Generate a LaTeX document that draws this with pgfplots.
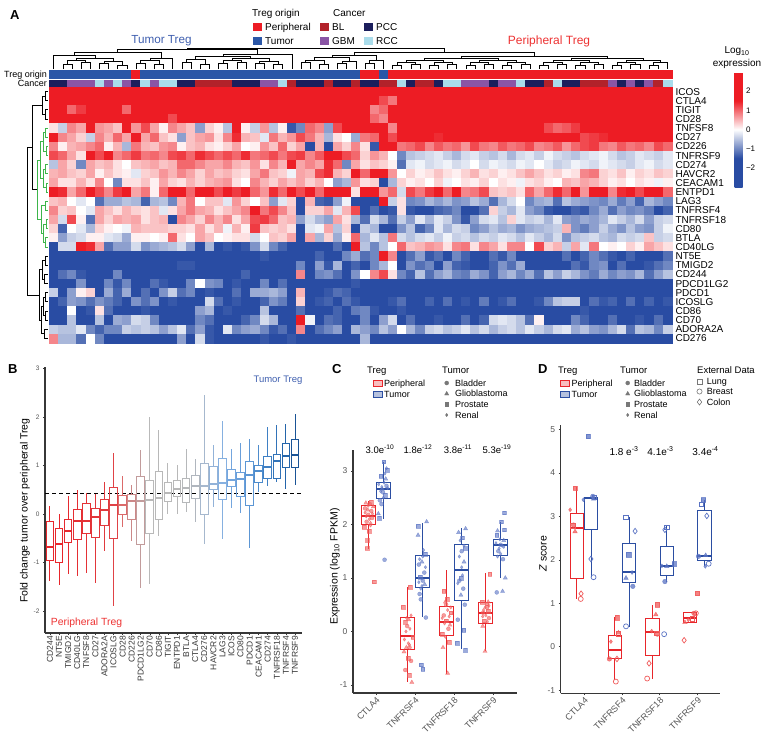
\documentclass[border=0pt]{standalone}
\usepackage{fontspec}
\setmainfont{Liberation Sans}
\usepackage{pgfplots}
\pgfplotsset{compat=1.18}
\usepackage{pgfplotstable}
\usepgfplotslibrary{statistics}
\newcommand{\fs}[1]{\fontsize{#1}{#1}\selectfont}
\definecolor{cP}{RGB}{237,28,36}
\definecolor{cT}{RGB}{43,87,167}
\definecolor{cBL}{RGB}{178,34,42}
\definecolor{cGBM}{RGB}{138,85,165}
\definecolor{cPCC}{RGB}{27,30,92}
\definecolor{cRCC}{RGB}{169,220,235}
\definecolor{cR}{RGB}{232,38,43}
\definecolor{cB}{RGB}{43,78,162}
\definecolor{ptR}{RGB}{240,90,90}
\definecolor{ptB}{RGB}{90,115,195}
\definecolor{axgray}{RGB}{55,55,55}
\definecolor{labgray}{RGB}{85,85,85}
\definecolor{symgray}{RGB}{120,120,120}
\definecolor{dgreen}{RGB}{61,181,74}
\definecolor{ttblue}{RGB}{63,95,175}
\definecolor{ptred}{RGB}{237,50,50}
% fold-change box colours, red -> grey -> blue
\definecolor{b01}{RGB}{232,38,43}
\definecolor{b02}{RGB}{232,38,43}
\definecolor{b03}{RGB}{230,42,47}
\definecolor{b04}{RGB}{229,46,51}
\definecolor{b05}{RGB}{228,50,54}
\definecolor{b06}{RGB}{226,54,58}
\definecolor{b07}{RGB}{224,58,62}
\definecolor{b08}{RGB}{224,66,70}
\definecolor{b09}{RGB}{219,106,106}
\definecolor{b10}{RGB}{204,136,136}
\definecolor{b11}{RGB}{194,156,156}
\definecolor{b12}{RGB}{185,185,185}
\definecolor{b13}{RGB}{184,184,184}
\definecolor{b14}{RGB}{185,185,185}
\definecolor{b15}{RGB}{184,184,184}
\definecolor{b16}{RGB}{182,184,186}
\definecolor{b17}{RGB}{176,182,190}
\definecolor{b18}{RGB}{166,184,206}
\definecolor{b19}{RGB}{146,178,216}
\definecolor{b20}{RGB}{134,176,224}
\definecolor{b21}{RGB}{116,166,222}
\definecolor{b22}{RGB}{106,159,218}
\definecolor{b23}{RGB}{92,150,212}
\definecolor{b24}{RGB}{78,140,204}
\definecolor{b25}{RGB}{63,128,196}
\definecolor{b26}{RGB}{50,115,184}
\definecolor{b27}{RGB}{36,101,170}
\definecolor{b28}{RGB}{26,84,150}
\newcommand{\bx}[7]{\addplot[draw=#1,line width=1pt,boxplot prepared={draw position=#2,lower whisker=#3,lower quartile=#4,median=#5,upper quartile=#6,upper whisker=#7}] coordinates {};}

% log10 expression, one line per gene (top to bottom), one column per sample
\pgfplotstableread[header=false]{
2.5 2.5 2.5 2.5 2.5 2.5 2.5 2.5 2.5 2.5  2.5 2.5 2.5 2.5 2.5 2.5 2.5 2.5 2.5 2.5  2.5 2.5 2.5 2.5 2.5 2.5 2.5 1.8 2.5 2.5  2.5 2.5 2.5 2.5 2.5 2.5 1.6 2.5 2.5 2.5  2.5 2.5 2.5 2.5 2.5 2.5 2.5 2.5 2.5 2.5  2.5 2.5 2.5 2.5 2.5 2.5 2.5 2.5 2.5 2.5  2.5 2.5 2.5 2.5 2.5 2.5 2.5 2.5
2.5 2.5 2.5 2.5 2.5 2.5 2.5 2.5 2.5 2.5  2.5 2.5 2.5 2.5 2.5 2.5 2.5 2.5 2.5 2.5  2.5 2.5 2.5 2.5 2.5 2.5 2.5 2.5 2.5 2.5  2.5 2.5 2.5 2.5 2.5 1.5 1.2 0.9 2.5 2.5  2.5 2.5 2.5 2.5 2.5 2.5 2.5 2.5 2.5 2.5  2.5 2.5 2.5 2.5 2.5 2.5 2.5 2.5 2.5 2.5  2.5 2.5 2.5 2.5 2.5 2.5 2.5 2.5
2.0 2.5 1.0 1.3 2.0 1.8 2.3 2.5 1.0 2.5  2.2 1.7 2.5 2.2 2.5 2.0 1.8 2.3 2.0 1.7  2.2 2.5 2.2 1.8 2.5 2.3 2.0 1.5 1.8 2.4  2.0 2.5 2.3 2.0 2.2 0.8 1.0 1.5 2.4 2.4  2.4 2.4 1.8 2.4 2.0 2.4 1.8 2.4 2.4 2.4  1.6 2.4 2.4 2.0 2.4 2.0 2.4 2.4 2.4 2.4  2.4 1.5 2.4 2.4 2.4 2.4 2.4 1.6
1.8 1.9 2.2 1.6 1.9 2.0 2.4 1.7 2.3 2.4  2.0 2.2 1.8 1.2 1.5 2.2 2.4 1.7 2.0 1.8  1.6 2.0 1.9 2.2 2.4 1.8 1.5 1.8 2.4 2.4  2.0 2.2 2.4 2.0 2.4 1.0 0.8 2.4 2.4 2.4  2.0 2.0 2.4 2.4 2.4 2.4 2.0 2.4 2.4 2.4  2.4 2.0 2.4 2.4 2.4 2.4 2.4 1.8 2.4 2.4  2.4 2.4 2.4 2.4 2.4 2.4 2.4 2.4
0.2 -0.4 0.8 0.6 2.2 0.7 0.6 0.4 1.8 0.7  1.2 0.6 0.1 0.8 0.6 0.4 -0.8 0.3 0.1 -0.5  1.5 0.1 -0.4 0.7 -0.5 0.1 -1.4 -1.0 1.0 0.8  -0.8 1.2 2.0 2.2 1.8 1.6 1.8 0.8 2.2 2.2  2.2 2.2 1.6 2.2 2.2 2.2 2.2 2.2 1.8 2.2  2.2 2.2 1.5 2.2 1.2 1.0 1.1 1.3 2.2 2.2  2.2 2.2 2.2 2.2 1.8 2.2 1.6 2.2
1.5 0.8 0.6 0.3 -0.4 0.8 0.5 1.0 0.6 1.5  0.6 1.0 0.4 0.2 -0.8 0.4 0.6 0.7 0.2 0.8  1.4 0.5 0.4 -0.2 0.9 0.5 0.7 1.2 0.9 0.5  -0.6 0.2 0.0 -0.7 0.9 1.0 2.0 1.2 2.0 1.5  1.8 2.0 1.4 1.8 2.2 1.9 1.6 2.2 1.8 2.0  2.2 1.7 2.0 1.9 2.2 1.8 2.0 1.6 1.2 1.3  1.4 2.0 2.2 1.8 2.0 1.9 1.6 2.0
0.8 0.1 0.5 0.6 0.8 1.0 0.1 0.5 -0.6 0.9  0.5 0.4 0.7 0.8 0.1 0.4 0.5 0.2 0.1 0.3  0.6 0.0 0.1 0.7 0.4 1.0 0.3 0.6 -2.2 0.5  -1.8 0.6 0.3 0.8 0.2 -1.4 2.2 2.3 0.9 1.0  1.2 0.8 1.1 0.9 1.0 0.7 1.2 0.9 0.8 1.1  0.9 1.0 1.2 0.8 0.9 1.1 0.7 1.0 1.2 1.3  0.9 0.8 1.1 0.9 1.0 0.8 1.2 1.0
1.2 1.0 0.6 0.2 1.5 1.2 1.6 0.8 1.0 1.3  0.9 1.0 0.8 1.2 1.3 1.0 1.4 1.2 1.0 1.2  1.0 1.4 0.9 1.0 1.2 0.9 1.2 1.3 0.8 1.1  1.6 1.9 1.2 1.0 0.3 0.7 0.5 0.0 -1.0 -0.5  -0.4 -0.3 -0.2 -0.4 -0.6 -0.3 -0.2 -0.4 -0.5 -0.3  -0.6 -0.3 -0.2 -0.4 -0.1 -0.3 -0.4 -0.5 -0.3 -0.2  -0.1 -0.3 -0.5 -0.4 -0.2 -0.3 -0.4 -0.2
-0.5 0.6 0.3 -1.0 0.6 0.4 0.5 0.2 0.0 0.4  0.5 0.6 0.4 0.5 1.0 1.0 0.8 0.6 0.6 0.8  0.5 0.4 0.7 0.2 0.8 0.5 2.2 0.6 0.8 0.6  1.4 1.0 -1.0 0.6 0.2 0.4 0.3 0.1 -1.2 -0.2  -0.1 -0.3 -0.2 -0.1 -0.3 -0.2 0.0 -0.3 -0.1 -0.2  -0.3 -0.1 -0.2 0.0 -0.2 -0.4 -0.3 -0.1 -0.2 -0.3  -0.1 -0.2 -0.3 -0.4 -0.2 -0.1 -0.3 -0.2
0.5 0.6 0.4 0.3 0.6 0.1 0.4 0.2 0.1 -0.2  0.3 0.4 0.7 0.5 0.8 0.6 0.3 0.6 0.4 0.5  0.3 0.2 0.6 0.9 0.4 0.3 -0.1 0.6 0.5 1.2  1.4 0.5 0.3 1.6 1.0 1.8 1.8 0.7 0.0 0.3  0.1 0.2 0.4 0.2 0.1 0.3 0.5 0.2 0.3 0.1  0.2 0.4 0.6 0.4 0.2 0.3 0.1 0.2 0.8 0.9  0.3 0.2 0.4 0.1 0.3 0.2 0.4 0.3
0.6 0.2 0.2 0.5 0.2 0.8 0.0 -1.0 0.2 0.2  0.4 0.1 0.6 0.3 0.2 0.5 0.3 0.5 0.6 0.7  0.2 0.0 0.8 0.5 0.3 0.6 0.4 0.6 0.3 0.5  0.0 -0.8 -0.6 0.7 0.2 0.3 -1.5 -0.6 0.3 0.1  0.2 0.0 0.3 -0.1 0.0 0.2 0.1 0.3 0.0 0.2  0.1 -0.1 0.2 0.3 0.1 0.0 0.5 0.4 0.6 0.5  0.3 0.1 0.2 0.0 0.2 0.1 -0.1 0.1
1.5 1.4 0.6 1.0 1.5 1.2 0.8 1.3 1.8 0.6  0.9 0.1 1.0 2.0 1.6 1.0 1.8 1.5 1.2 1.6  1.3 1.5 1.0 0.7 1.4 1.0 1.5 1.2 1.6 1.0  1.9 1.6 2.2 0.2 2.3 2.3 0.7 1.0 -0.3 1.2  0.9 1.3 1.5 1.0 1.6 0.8 0.9 1.2 0.4 0.3  0.4 0.2 1.0 0.6 1.0 1.4 1.0 1.6 0.7 1.5  1.6 0.8 1.4 1.6 1.2 1.5 1.8 1.0
0.4 0.5 0.0 -0.2 0.0 -1.2 -0.7 -0.7 -0.5 -0.6  -1.3 -0.6 -0.5 -1.0 0.5 0.9 0.0 0.4 0.4 -0.2  0.7 0.3 0.0 0.4 -0.8 -0.2 0.3 -1.8 0.5 -1.3  -1.4 -0.8 -0.1 -1.8 -1.8 -1.5 1.5 -0.4 0.2 -1.0  -0.9 -0.6 -0.8 -0.6 -0.9 -0.8 -0.5 -0.7 -1.2 -0.6  -0.3 0.0 -1.0 -0.7 -0.6 -1.2 -0.5 -0.7 -0.8 -0.9  -1.0 -0.7 -1.1 -0.8 -1.3 -0.6 -0.8 -1.0
0.8 0.3 0.4 0.0 -0.2 0.6 0.4 0.2 0.5 0.3  0.2 0.4 -0.2 0.2 0.6 0.9 0.6 0.5 0.2 0.4  0.6 0.8 2.4 0.9 1.2 0.8 0.4 -1.5 0.3 0.3  0.6 -0.2 0.5 1.2 -1.5 -1.2 -1.6 -1.4 0.2 -1.4  -1.8 -1.8 -1.3 -1.2 -1.0 -1.6 -1.8 -1.2 0.3 -0.4  -0.6 -0.2 -0.8 -1.0 -1.4 -1.6 -1.8 -1.3 -1.4 -1.0  -0.7 -1.2 -0.8 -1.0 -0.9 -1.1 -1.8 -1.3
0.6 -0.3 1.2 0.1 -1.2 0.6 0.3 0.6 0.5 0.6  0.2 0.4 0.5 -1.6 0.8 0.6 0.3 0.8 0.5 0.8  0.2 0.6 1.2 1.3 1.0 0.4 0.5 -0.8 -0.3 -0.6  -0.8 0.6 0.2 -0.6 -1.2 -0.3 -0.6 -1.2 -0.4 -0.8  -0.2 -0.6 -0.2 -0.4 -0.9 -1.4 -0.8 -0.3 -0.2 -0.5  0.3 -0.2 -0.4 -0.3 -0.6 -0.2 -0.8 -0.9 -0.7 -0.8  -0.6 -0.2 -0.4 -0.6 -0.3 -0.8 -0.4 -0.3
0.3 -1.3 0.0 -0.2 -0.6 0.3 0.1 0.0 -0.1 0.5  0.4 0.4 0.4 0.3 0.3 0.2 0.6 0.2 0.5 -0.1  0.5 0.1 1.3 0.4 0.3 0.4 0.2 -1.8 -0.2 -0.1  0.6 -0.5 0.3 -1.6 -0.4 -0.6 -1.8 -1.6 -0.9 -0.5  -1.3 -1.0 -0.2 -0.6 -0.3 -0.4 -1.0 -0.8 -0.5 -0.7  -0.6 -0.9 -0.7 -0.6 -0.5 -0.4 0.5 -0.9 -1.1 -0.8  -0.4 -0.7 -0.9 -0.5 -0.8 -0.9 -0.4 -0.1
0.1 -0.8 -0.4 -0.3 0.1 0.1 -0.2 -0.3 -0.7 0.1  0.1 0.0 0.1 1.0 0.2 0.0 0.6 0.4 0.0 0.1  0.2 0.2 -0.3 0.0 0.4 0.3 0.6 -1.5 0.6 -0.6  0.3 -0.7 0.1 1.0 -0.6 -0.2 -0.5 0.9 -0.3 -0.5  -0.3 -0.2 -0.4 -0.1 -0.4 -0.3 -0.5 -0.3 -0.4 -0.2  -0.3 -0.5 -0.2 -0.4 -0.6 -0.3 -0.9 -0.5 -0.4 -0.3  -0.5 -0.6 -0.3 -0.4 -0.3 0.4 -0.4 -0.3
-2.0 -0.3 -0.3 1.8 1.4 0.6 -1.2 -0.8 -0.8 -0.3  -0.9 -0.7 -0.6 -0.5 -0.3 -0.8 -2.0 -0.6 -1.5 -1.4  -1.6 -1.4 -0.9 -0.3 -1.0 -1.3 -1.6 -1.8 -1.8 -1.5  -1.6 -1.2 -1.8 2.0 -0.5 -1.0 -0.5 0.0 1.0 0.4  0.5 0.7 0.6 0.2 0.8 0.9 0.2 0.8 0.6 0.2  0.8 0.8 0.0 1.2 0.3 0.5 -0.4 0.6 -0.2 0.9  0.0 0.1 0.0 0.3 0.1 0.6 0.4 0.2
-2.2 -2.0 -2.2 -2.2 -2.1 -2.2 -2.2 -2.0 -2.2 -2.2  -2.2 -2.1 -2.2 -2.2 -2.0 -2.2 -2.2 -2.1 -2.2 -1.5  -2.2 -2.0 -1.6 -1.4 -2.2 -2.1 -2.2 -2.2 -2.0 -1.3  -1.5 -2.0 -1.0 -0.7 -1.2 -1.0 1.5 0.8 -1.5 -1.2  -0.8 -1.4 -1.2 -1.6 -1.0 -1.3 -1.5 -1.8 -1.2 -1.4  -1.0 -1.6 -1.8 -2.0 -1.9 -1.8 -1.2 -1.5 -1.3 -1.0  -1.2 -1.4 -1.6 -1.3 -1.8 -1.5 -1.7 -1.2
-2.2 -2.2 -2.2 -2.2 -2.2 -2.1 -2.2 -2.2 -2.2 -2.2  -2.2 -2.2 -2.2 -2.2 -1.4 -1.4 -2.2 -2.2 -2.2 -2.2  -2.2 -1.7 -2.2 -2.2 -2.2 -2.2 -2.2 -1.0 -2.2 -0.8  -1.4 -0.6 -2.0 -1.3 -1.8 -1.0 -0.6 0.0 -1.5 -0.9  -1.2 -1.0 -1.6 -0.8 -1.3 -1.4 -1.8 -1.6 -1.3 -0.9  -1.2 -0.7 -1.6 -1.5 -1.8 -2.0 -1.8 -1.2 -1.4 -1.0  -0.9 -1.6 -1.2 -1.8 -1.5 -1.4 -1.2 -1.0
-2.2 -1.2 -1.0 -1.4 -1.6 -2.0 -2.2 -1.0 -2.2 -2.0  -2.2 -2.0 -2.2 -2.0 -2.2 -2.1 -2.2 -2.0 -2.2 -1.8  -2.0 -1.3 -2.1 -1.8 -2.0 -1.9 -2.2 0.8 -2.0 -1.0  -0.9 -1.2 -1.5 -0.9 0.0 0.8 1.2 0.2 -1.0 -1.3  -0.5 -1.2 -0.8 -0.6 -1.0 -1.1 -0.7 -0.9 -1.3 -0.8  -0.6 -1.0 -0.7 -1.2 -0.5 -0.8 -0.4 -0.6 -0.9 -1.1  -0.7 -1.0 -0.8 -0.9 -0.6 -1.2 -0.8 -0.5
-2.2 -2.2 -2.0 -0.9 -1.5 -2.0 -1.0 -1.4 -1.0 -2.2  -2.0 -1.2 -1.4 -1.5 -1.5 -1.0 0.0 -0.9 -1.0 -1.7  -1.4 -1.5 -1.6 -1.0 -1.5 -1.2 -2.0 -1.5 -2.0 -1.6  -1.5 -2.0 -2.0 -1.4 -1.8 -2.0 -2.2 -2.2 -2.1 -2.2  -2.2 -2.0 -1.9 -2.2 -1.8 -2.2 -2.1 -2.2 -2.0 -1.7  -2.2 -2.1 -1.8 -2.2 -2.0 -2.2 -2.2 -1.9 -2.2 -2.0  -2.2 -2.1 -2.0 -2.2 -2.1 -1.6 -2.2 -2.2
-0.4 -2.2 -0.8 0.1 0.3 -2.2 -0.7 -1.3 -0.7 -1.8  -1.2 -1.5 -0.9 -0.4 -1.2 -1.0 -1.5 -1.4 -1.6 -1.8  -1.2 -1.5 -0.7 -0.7 -0.6 -0.8 -2.0 0.5 -2.0 -1.6  -1.4 -1.2 -1.3 -1.5 -1.6 -2.0 -2.2 -2.2 -1.5 -2.0  -1.8 -2.0 -2.2 -1.7 -2.0 -1.8 -2.1 -2.0 -1.5 -1.8  -1.9 -2.2 -2.0 -1.8 -2.1 -2.2 -2.0 -1.9 -2.2 -2.2  -2.2 -2.0 -1.8 -2.1 -1.9 -2.0 -2.2 -2.2
-2.0 -1.3 -0.8 -0.9 -1.2 -0.9 -1.1 -1.3 -2.0 -0.9  -1.2 -0.9 -1.5 -1.4 -1.6 -1.5 -1.8 -0.3 -1.2 -1.7  -1.4 -1.6 -1.5 -1.3 -0.9 -1.1 -2.0 0.3 -2.0 -1.4  -1.3 -1.6 -1.2 -1.4 -1.6 -1.5 -1.6 -1.4 -1.2 -1.8  -1.5 -1.3 -1.6 -1.2 -1.8 -1.4 -1.5 -1.1 -1.6 -1.4  -1.2 -1.5 -1.6 -1.4 -1.0 -0.5 -0.4 -0.4 -1.6 -1.2  -1.4 -1.3 -1.6 -1.2 -1.5 -1.3 -1.6 -1.4
-2.0 -1.6 0.0 -2.0 -1.4 0.2 -1.2 -1.8 -1.5 -1.6  -1.4 -2.0 -1.8 -1.6 -1.5 -1.7 -0.8 -0.6 -1.7 -1.4  -2.0 -1.9 -2.0 -0.5 -1.8 -1.6 -1.8 -1.2 -1.6 -1.8  -1.5 -1.3 -1.6 -1.1 -1.0 -1.4 -1.9 -2.1 -1.4 -1.8  -1.6 -2.0 -1.8 -2.1 -1.7 -1.9 -1.6 -2.0 -1.8 -1.9  -2.1 -1.7 -1.9 -1.8 -1.5 -1.9 -2.0 -1.6 -1.4 -1.9  -2.1 -2.0 -1.8 -1.9 -1.7 -1.8 -1.6 -1.7
-2.2 -2.2 -0.5 -2.2 -1.5 -0.5 -1.8 -0.7 -0.8 -0.3  -0.4 -1.0 -1.6 -2.0 -2.0 -1.6 -1.0 -1.2 -1.6 -1.5  -1.8 -1.3 -1.0 -0.3 -0.6 -1.8 -2.0 2.5 -0.1 -1.6  -1.2 -1.3 -1.5 -1.6 -1.0 -1.8 -0.8 -0.3 -1.8 -1.2  -1.6 -1.9 -1.4 -1.5 -1.7 -1.2 -1.8 -1.3 -0.3 -0.2  -0.3 -0.5 -1.2 0.1 -1.6 -1.8 -1.5 -1.0 -1.3 -1.6  -1.8 -1.2 -1.5 -1.7 -1.4 -1.6 -1.2 -1.5
-0.4 -0.5 -0.5 -0.2 -1.0 -1.3 -1.0 -1.0 -0.4 -0.5  -0.4 -0.5 -0.8 -0.5 -0.2 -1.2 -0.8 -1.4 -1.8 -0.2  -1.0 -0.8 -0.7 -1.0 -1.4 -1.2 -1.6 0.8 -1.8 -1.2  -1.0 -0.8 -1.5 -0.6 -0.8 -1.0 -0.5 -0.8 0.0 -0.6  -1.0 -0.4 -0.3 -0.5 -0.4 -0.2 -0.5 -0.3 -0.6 -0.4  -0.3 -0.5 -0.2 -0.4 -0.6 -0.3 -0.2 -0.7 -0.5 -0.8  -0.9 -0.6 -0.3 -1.2 -0.5 -0.6 -1.0 -0.4
0.8 -0.6 -0.6 -1.2 0.0 -1.0 -2.2 -2.2 -2.2 -2.2  -2.2 -2.2 -2.2 -2.2 -0.8 -2.2 -0.3 -1.4 -2.2 -1.8  -2.2 -2.2 -1.8 -1.4 -2.0 -1.8 -1.4 -2.2 -1.6 -1.8  -2.2 -1.8 -2.0 -2.2 -0.6 -2.0 -2.2 -2.2 -2.2 -2.1  -2.2 -2.2 -2.0 -2.2 -2.2 -2.1 -2.2 -2.2 -2.2 -2.0  -2.2 -2.2 -2.1 -2.2 -2.2 -2.2 -2.0 -2.2 -2.2 -2.2  -2.0 -2.2 -2.2 -2.2 -2.1 -2.2 -2.2 -2.2
}\heat

% sample annotation: Treg origin and cancer type
\pgfplotstableread{
x o c
0 T PCC
1 T PCC
2 T GBM
3 T GBM
4 T GBM
5 T RCC
6 T GBM
7 T RCC
8 T GBM
9 P PCC
10 T RCC
11 T GBM
12 T RCC
13 T RCC
14 T PCC
15 T PCC
16 T BL
17 T BL
18 T BL
19 T BL
20 T PCC
21 T PCC
22 T PCC
23 T GBM
24 T GBM
25 T RCC
26 T BL
27 T PCC
28 T PCC
29 T PCC
30 T BL
31 T PCC
32 T PCC
33 T BL
34 P PCC
35 P PCC
36 T BL
37 P BL
38 P RCC
39 P PCC
40 P BL
41 P BL
42 P PCC
43 P RCC
44 P RCC
45 P GBM
46 P GBM
47 P GBM
48 P PCC
49 P GBM
50 P GBM
51 P RCC
52 P PCC
53 P PCC
54 P BL
55 P RCC
56 P PCC
57 P PCC
58 P BL
59 P BL
60 P BL
61 P GBM
62 P PCC
63 P GBM
64 P PCC
65 P GBM
66 P BL
67 P RCC
}\annot

\begin{document}
\begin{tikzpicture}
\useasboundingbox (0,0) rectangle (767pt,-745pt);

% ---------------- A: heatmap
\begin{axis}[at={(49pt,-87pt)},anchor=north west,scale only axis,width=623pt,height=256pt,
  xmin=-0.5,xmax=67.5,ymin=-0.5,ymax=27.5,y dir=reverse,
  axis line style={draw=none},xtick=\empty,ytick={0,...,27},
  yticklabels={ICOS,CTLA4,TIGIT,CD28,TNFSF8,CD27,CD226,TNFRSF9,CD274,HAVCR2,CEACAM1,ENTPD1,LAG3,TNFRSF4,TNFRSF18,CD80,BTLA,CD40LG,NT5E,TMIGD2,CD244,PDCD1LG2,PDCD1,ICOSLG,CD86,CD70,ADORA2A,CD276},
  yticklabel pos=right,yticklabel style={font=\fs{10}},major tick length=0pt,
  point meta=explicit,point meta min=-3,point meta max=3,
  colormap={heat}{rgb255=(41,76,163) rgb255=(41,76,163) rgb255=(255,255,255) rgb255=(237,28,36) rgb255=(237,28,36)},
  colorbar,
  colorbar style={at={(parent axis.north east)},anchor=north west,xshift=54pt,yshift=15pt,
    width=8pt,height=115pt,scale only axis,ytick={-2,-1,0,1,2},yticklabels={−2,−1,0,1,2},
    yticklabel style={font=\fs{8}},axis line style={draw=none},major tick length=0pt},
  clip=false]
\pgfplotsinvokeforeach{0,...,67}{
  \addplot[scatter,only marks,mark=square*,mark size=4.6pt,
    scatter/use mapped color={draw=mapped color,fill=mapped color},
    mark options={line width=0.2pt}]
    table[x expr=#1,y expr=\coordindex,meta index=#1]{\heat};
}
\end{axis}

% annotation bars
\begin{axis}[at={(49pt,-68pt)},anchor=north west,scale only axis,width=623pt,height=19pt,
  xmin=-0.5,xmax=67.5,ymin=0,ymax=19,y dir=reverse,axis lines=none,clip=false]
\addplot[scatter,only marks,scatter src=explicit symbolic,
  scatter/classes={P={mark=square*,draw=cP,fill=cP,mark size=4.6pt,yscale=0.87},
                   T={mark=square*,draw=cT,fill=cT,mark size=4.6pt,yscale=0.87}}]
  table[x=x,y expr=6,meta=o]{\annot};
\addplot[scatter,only marks,scatter src=explicit symbolic,
  scatter/classes={BL={mark=square*,draw=cBL,fill=cBL,mark size=4.6pt,yscale=0.65},
                   GBM={mark=square*,draw=cGBM,fill=cGBM,mark size=4.6pt,yscale=0.65},
                   PCC={mark=square*,draw=cPCC,fill=cPCC,mark size=4.6pt,yscale=0.65},
                   RCC={mark=square*,draw=cRCC,fill=cRCC,mark size=4.6pt,yscale=0.65}}]
  table[x=x,y expr=15,meta=c]{\annot};
\draw[black,line width=0.7pt] (axis cs:-0.5,2) rectangle (axis cs:67.5,10);
\draw[black,line width=0.7pt] (axis cs:33.5,2) -- (axis cs:33.5,10);
\end{axis}

% ---------------- B: fold change
\begin{axis}[at={(45pt,-367pt)},anchor=north west,scale only axis,width=257pt,height=266pt,
  xmin=0.45,xmax=28.77,ymin=-2.45,ymax=3.03,
  axis x line*=bottom,axis y line*=left,axis line style={draw=axgray,line width=1.3pt},
  xtick={1,...,28},
  xticklabels={CD244,NT5E,TMIGD2,CD40LG,TNFSF8,CD27,ADORA2A,ICOSLG,CD28,CD226,PDCD1LG2,CD70,CD86,TIGIT,ENTPD1,BTLA,CTLA4,CD276,HAVCR2,LAG3,ICOS,CD80,PDCD1,CEACAM1,CD274,TNFRSF18,TNFRSF4,TNFRSF9},
  xticklabel style={rotate=90,anchor=east,font=\fs{8.5},text=axgray,inner sep=1pt},
  ytick={-2,-1,0,1,2,3},yticklabels={-2,-1,0,1,2,3},yticklabel style={font=\fs{6.5},text=labgray},
  tick align=outside,major tick length=2pt,tick style={draw=axgray,line width=0.6pt},
  boxplot/draw direction=y,
  boxplot/box extend=0.85,boxplot/whisker extend=0,boxplot/every median/.style={line width=2pt},
  every axis y label/.style={at={(axis description cs:-0.078,0.46)},rotate=90,anchor=center},
  ylabel={Fold change tumor over peripheral Treg},ylabel style={font=\fs{10.5}},clip=false]
\addplot[black,line width=1pt,dash pattern=on 4pt off 3pt] coordinates {(0.45,0.43) (28.77,0.43)};
\bx{b01}{1}{-1.37}{-0.95}{-0.68}{-0.16}{0.17}
\bx{b02}{2}{-1.47}{-0.99}{-0.61}{-0.30}{0.01}
\bx{b03}{3}{-1.23}{-0.59}{-0.35}{-0.12}{0.37}
\bx{b04}{4}{-1.28}{-0.52}{-0.15}{0.10}{0.50}
\bx{b05}{5}{-1.21}{-0.39}{-0.15}{0.22}{0.44}
\bx{b06}{6}{-1.41}{-0.48}{-0.06}{0.11}{0.41}
\bx{b07}{7}{-0.76}{-0.23}{0.08}{0.30}{0.66}
\bx{b08}{8}{-1.90}{-0.50}{0.18}{0.55}{1.26}
\bx{b09}{9}{-0.26}{0.00}{0.19}{0.39}{0.79}
\bx{b10}{10}{-0.55}{-0.12}{0.26}{0.41}{0.59}
\bx{b11}{11}{-1.53}{-0.62}{0.26}{0.77}{1.31}
\bx{b12}{12}{-1.43}{-0.41}{0.29}{0.70}{1.99}
\bx{b13}{13}{-0.45}{-0.11}{0.33}{0.88}{1.74}
\bx{b14}{14}{0.00}{0.26}{0.44}{0.66}{1.06}
\bx{b15}{15}{0.01}{0.36}{0.52}{0.69}{1.01}
\bx{b16}{16}{0.05}{0.23}{0.54}{0.74}{1.34}
\bx{b17}{17}{-0.16}{0.32}{0.57}{0.79}{1.13}
\bx{b18}{18}{-0.61}{0.00}{0.58}{1.05}{2.46}
\bx{b19}{19}{0.15}{0.51}{0.62}{0.99}{1.43}
\bx{b20}{20}{-0.51}{0.30}{0.65}{1.14}{1.91}
\bx{b21}{21}{0.12}{0.57}{0.70}{0.91}{1.34}
\bx{b22}{22}{0.03}{0.37}{0.72}{0.86}{1.46}
\bx{b23}{23}{-0.70}{0.17}{0.80}{1.09}{1.54}
\bx{b24}{24}{0.46}{0.66}{0.88}{1.01}{1.43}
\bx{b25}{25}{0.57}{0.73}{0.97}{1.19}{1.79}
\bx{b26}{26}{0.66}{0.74}{1.10}{1.23}{1.83}
\bx{b27}{27}{0.51}{0.97}{1.19}{1.46}{1.86}
\bx{b28}{28}{0.59}{0.97}{1.21}{1.54}{2.06}
\end{axis}

% ---------------- C: expression
\begin{axis}[at={(353pt,-450pt)},anchor=north west,scale only axis,width=164pt,height=243pt,
  xmin=0.41,xmax=4.62,ymin=-1.15,ymax=3.39,
  axis x line*=bottom,axis y line*=left,axis line style={draw=axgray,line width=1.3pt},
  xtick={1,2,3,4},xticklabels={CTLA4,TNFRSF4,TNFRSF18,TNFRSF9},
  xticklabel style={rotate=45,anchor=north east,font=\fs{9},text=labgray,inner sep=1pt},
  ytick={-1,0,1,2,3},yticklabels={-1,0,1,2,3},yticklabel style={font=\fs{8.5},text=labgray},
  tick align=outside,major tick length=2pt,tick style={draw=axgray,line width=0.6pt},
  boxplot/draw direction=y,
  boxplot/box extend=0.36,boxplot/whisker extend=0,boxplot/every median/.style={line width=2pt},
  every axis y label/.style={at={(axis description cs:-0.11,0.52)},rotate=90,anchor=center},
  ylabel={Expression (log\textsubscript{10} FPKM)},ylabel style={font=\fs{10.5}},clip=false]
\bx{cR}{0.815}{1.54}{2.00}{2.16}{2.35}{2.44}
\bx{cB}{1.185}{2.11}{2.49}{2.67}{2.79}{3.17}
\bx{cR}{1.815}{-0.95}{-0.33}{-0.09}{0.27}{0.83}
\bx{cB}{2.185}{0.27}{0.82}{0.99}{1.41}{2.03}
\bx{cR}{2.815}{-0.79}{-0.07}{0.17}{0.46}{1.15}
\bx{cB}{3.185}{-0.33}{0.58}{1.14}{1.62}{1.93}
\bx{cR}{3.815}{-0.36}{0.15}{0.35}{0.54}{1.09}
\bx{cB}{4.185}{1.00}{1.41}{1.61}{1.71}{2.05}
% peripheral samples
\addplot[only marks,ptR,opacity=0.6,mark=*,mark size=2pt] coordinates {
 (0.72,2.30)(0.80,2.18)(0.88,2.25)(0.76,2.05)(0.90,2.12)(0.84,2.38)
 (1.75,-0.72)(1.86,-0.30)(1.80,0.10)(1.90,-0.55)
 (2.74,0.30)(2.86,0.05)(2.80,0.50)
 (3.75,0.35)(3.85,0.45)(3.90,0.25)};
\addplot[only marks,ptR,opacity=0.6,mark=triangle*,mark size=2.4pt] coordinates {
 (0.74,2.40)(0.86,2.02)(0.79,2.27)(0.93,2.33)
 (1.72,-0.38)(1.92,-0.95)(1.84,0.22)(1.78,-0.30)
 (2.72,-0.30)(2.84,-0.78)(2.90,0.12)(2.78,0.55)
 (3.74,0.10)(3.88,0.55)(3.80,-0.37)};
\addplot[only marks,ptR,opacity=0.6,mark=square*,mark size=1.9pt] coordinates {
 (0.70,1.95)(0.82,1.88)(0.78,1.70)(0.77,1.55)(0.95,0.93)(0.88,2.42)
 (1.70,0.45)(1.88,0.83)(1.82,-0.50)(1.76,0.18)(1.94,-0.10)(1.85,-0.82)
 (2.74,0.75)(2.82,0.60)(2.88,-0.20)(2.70,-0.05)(2.92,0.35)(2.80,0.20)
 (3.72,0.55)(3.92,1.07)(3.84,0.52)(3.78,0.20)(3.88,0.38)};
\addplot[only marks,ptR,opacity=0.6,mark=diamond*,mark size=1.7pt] coordinates {
 (0.75,2.15)(0.83,2.10)(0.91,2.20)(0.80,2.35)(0.86,1.98)(0.72,2.22)
 (1.79,0.25)(1.87,0.05)(1.73,-0.15)(1.83,-0.22)(1.90,0.30)(1.77,0.00)(1.86,-0.25)
 (2.76,0.15)(2.84,0.40)(2.88,0.28)(2.78,-0.10)(2.92,0.45)(2.70,0.25)
 (3.76,0.40)(3.82,0.30)(3.90,0.48)(3.74,0.28)(3.86,0.18)(3.80,0.45)};
% tumor samples
\addplot[only marks,ptB,opacity=0.6,mark=*,mark size=2pt] coordinates {
 (1.10,2.45)(1.18,2.60)(1.27,2.72)(1.14,2.38)(1.22,1.34)
 (2.10,1.25)(2.20,0.95)(2.28,0.26)(2.15,0.60)(2.24,1.10)(2.12,0.70)
 (3.10,0.22)(3.28,0.50)(3.20,1.50)(3.14,0.95)(3.24,0.80)
 (4.10,0.73)(4.14,1.50)(4.26,1.35)(4.20,1.62)};
\addplot[only marks,ptB,opacity=0.6,mark=triangle*,mark size=2.4pt] coordinates {
 (1.06,2.20)(1.25,2.85)(1.16,2.66)
 (2.08,1.80)(2.30,2.05)(2.18,1.30)(2.25,0.88)
 (3.12,1.85)(3.30,1.92)(3.18,0.68)(3.26,1.30)
 (4.32,1.00)(4.25,0.75)(4.12,1.88)(4.28,1.70)};
\addplot[only marks,ptB,opacity=0.6,mark=square*,mark size=1.9pt] coordinates {
 (1.20,3.17)(1.28,3.02)(1.12,2.90)(1.09,2.12)(1.24,2.55)
 (2.08,1.97)(2.16,-0.62)(2.20,-0.70)(2.26,1.45)(2.14,1.02)
 (3.22,1.75)(3.28,1.55)(3.08,-0.22)(3.30,-0.35)(3.18,1.00)(3.25,0.02)
 (4.30,2.22)(4.22,2.05)(4.30,1.90)(4.10,1.80)};
\addplot[only marks,ptB,opacity=0.6,mark=diamond*,mark size=1.7pt] coordinates {
 (1.15,2.70)(1.21,2.78)(1.27,3.05)(1.12,2.62)(1.19,2.50)(1.30,2.68)(1.07,2.75)(1.23,2.95)
 (2.12,1.35)(2.22,1.52)(2.18,0.85)(2.27,1.20)(2.10,0.92)(2.20,1.40)(2.15,0.80)
 (3.14,1.40)(3.20,1.20)(3.26,1.60)(3.10,0.90)(3.16,1.70)(3.22,1.05)
 (4.16,1.55)(4.24,1.60)(4.20,1.45)(4.08,1.65)(4.28,1.58)(4.18,1.72)(4.12,1.40)};
\end{axis}

% ---------------- D: z score
\begin{axis}[at={(560.7pt,-425pt)},anchor=north west,scale only axis,width=159.3pt,height=268.3pt,
  xmin=0.38,xmax=4.6,ymin=-1.07,ymax=5.1,
  axis x line*=bottom,axis y line*=left,axis line style={draw=axgray,line width=1.3pt},
  xtick={1,2,3,4},xticklabels={CTLA4,TNFRSF4,TNFRSF18,TNFRSF9},
  xticklabel style={rotate=45,anchor=north east,font=\fs{9},text=labgray,inner sep=1pt},
  ytick={-1,0,1,2,3,4,5},yticklabels={-1,0,1,2,3,4,5},yticklabel style={font=\fs{8.5},text=labgray},
  tick align=outside,major tick length=2pt,tick style={draw=axgray,line width=0.6pt},
  boxplot/draw direction=y,
  boxplot/box extend=0.35,boxplot/whisker extend=0,boxplot/every median/.style={line width=2pt},
  every axis y label/.style={at={(axis description cs:-0.111,0.52)},rotate=90,anchor=center},
  ylabel={\textit{Z} score},ylabel style={font=\fs{10.5}},clip=false]
\bx{cR}{0.81}{1.10}{1.58}{2.73}{3.06}{3.67}
\bx{cB}{1.19}{1.60}{2.69}{3.42}{3.44}{3.44}
\bx{cR}{1.81}{-0.77}{-0.28}{-0.07}{0.25}{0.68}
\bx{cB}{2.19}{0.45}{1.48}{1.73}{2.38}{2.98}
\bx{cR}{2.81}{-0.73}{-0.21}{0.33}{0.64}{0.97}
\bx{cB}{3.19}{1.48}{1.65}{1.85}{2.31}{2.77}
\bx{cR}{3.81}{0.56}{0.56}{0.66}{0.79}{0.79}
\bx{cB}{4.19}{1.85}{1.99}{2.08}{3.14}{3.38}
% study samples (filled) and external data sets (open)
\addplot[only marks,ptR,opacity=0.75,mark=*,mark size=2.3pt] coordinates {(0.72,2.80)(1.67,-0.28)(2.94,0.29)(3.91,0.77)};
\addplot[only marks,ptR,opacity=0.75,mark=triangle*,mark size=2.6pt] coordinates {(0.76,2.65)(1.91,0.32)(2.90,0.74)(3.67,0.56)};
\addplot[only marks,ptR,opacity=0.75,mark=square*,mark size=2.2pt] coordinates {(0.76,3.65)(1.87,0.67)(2.94,0.97)(4.00,1.23)};
\addplot[only marks,ptR,opacity=0.75,mark=diamond*,mark size=2pt] coordinates {(0.63,3.15)(1.71,0.12)(2.79,0.36)(3.76,0.62)};
\addplot[only marks,ptR,mark=o,mark size=2.5pt,mark options={line width=0.7pt}] coordinates {(0.91,1.10)(1.84,-0.80)(2.67,-0.73)(3.96,0.77)};
\addplot[only marks,ptR,mark=diamond,mark size=2.8pt,mark options={line width=0.7pt}] coordinates {(0.92,1.22)(1.87,-0.28)(2.72,-0.38)(3.65,0.15)};
\addplot[only marks,ptR,mark=square,mark size=2.2pt,mark options={line width=0.7pt}] coordinates {(0.70,2.78)(1.90,0.30)(2.93,0.31)(3.86,0.64)};
\addplot[only marks,ptB,opacity=0.75,mark=*,mark size=2.3pt] coordinates {(1.23,3.46)(2.29,1.39)(3.14,1.50)(4.03,2.08)};
\addplot[only marks,ptB,opacity=0.75,mark=triangle*,mark size=2.6pt] coordinates {(1.25,3.40)(2.11,1.58)(3.19,1.85)(4.22,2.10)};
\addplot[only marks,ptB,opacity=0.75,mark=square*,mark size=2.2pt] coordinates {(1.11,4.84)(2.18,2.12)(3.38,1.91)(4.16,3.38)};
\addplot[only marks,ptB,opacity=0.75,mark=diamond*,mark size=2pt] coordinates {(0.98,3.38)(2.27,1.71)(3.06,1.86)(4.21,1.85)};
\addplot[only marks,ptB,mark=square,mark size=2.2pt,mark options={line width=0.7pt}] coordinates {(1.27,3.44)(2.11,2.98)(3.19,2.75)(4.10,3.27)};
\addplot[only marks,ptB,mark=o,mark size=2.5pt,mark options={line width=0.7pt}] coordinates {(1.25,1.60)(2.11,0.47)(3.12,0.29)(4.30,1.91)};
\addplot[only marks,ptB,mark=diamond,mark size=2.8pt,mark options={line width=0.7pt}] coordinates {(1.18,2.02)(2.35,2.66)(3.14,2.69)(4.25,3.01)};
\end{axis}

% ---------------- canvas in pixel units: dendrograms, legends, text
\begin{axis}[at={(0pt,0pt)},anchor=north west,scale only axis,width=767pt,height=745pt,
  xmin=0,xmax=767,ymin=0,ymax=745,y dir=reverse,axis lines=none,clip=false,unbounded coords=jump]
% column dendrogram
\addplot[black,line width=0.6pt] coordinates {
(62.8,69)(62.8,64)(71.9,64)(71.9,69)(nan,nan)
(81.1,69)(81.1,62)(90.2,62)(90.2,69)(nan,nan)
(67.4,64)(67.4,60)(85.7,60)(85.7,62)(nan,nan)
(99.4,69)(99.4,63)(108.6,63)(108.6,69)(nan,nan)
(117.7,69)(117.7,65)(126.9,65)(126.9,69)(nan,nan)
(104.0,63)(104.0,61)(122.3,61)(122.3,65)(nan,nan)
(76.5,60)(76.5,58)(113.2,58)(113.2,61)(nan,nan)
(53.6,69)(53.6,55)(94.8,55)(94.8,58)(nan,nan)
(136.0,69)(136.0,63)(145.2,63)(145.2,69)(nan,nan)
(154.4,69)(154.4,64)(163.5,64)(163.5,69)(nan,nan)
(140.6,63)(140.6,60)(159.0,60)(159.0,64)(nan,nan)
(149.8,60)(149.8,58)(172.7,58)(172.7,69)(nan,nan)
(74.2,55)(74.2,52)(161.2,52)(161.2,58)(nan,nan)
(181.8,69)(181.8,62)(191.0,62)(191.0,69)(nan,nan)
(200.2,69)(200.2,64)(209.3,64)(209.3,69)(nan,nan)
(186.4,62)(186.4,59)(204.8,59)(204.8,64)(nan,nan)
(218.5,69)(218.5,63)(227.6,63)(227.6,69)(nan,nan)
(236.8,69)(236.8,62)(246.0,62)(246.0,69)(nan,nan)
(223.1,63)(223.1,60)(241.4,60)(241.4,62)(nan,nan)
(255.1,69)(255.1,63)(264.3,63)(264.3,69)(nan,nan)
(273.4,69)(273.4,64)(282.6,64)(282.6,69)(nan,nan)
(259.7,63)(259.7,61)(278.0,61)(278.0,64)(nan,nan)
(232.2,60)(232.2,58.5)(268.9,58.5)(268.9,61)(nan,nan)
(195.6,59)(195.6,56)(250.5,56)(250.5,58.5)(nan,nan)
(223.1,56)(223.1,54)(291.8,54)(291.8,69)(nan,nan)
(117.7,52)(117.7,49.5)(257.4,49.5)(257.4,54)(nan,nan)
(300.9,69)(300.9,62)(310.1,62)(310.1,69)(nan,nan)
(319.2,69)(319.2,64)(328.4,64)(328.4,69)(nan,nan)
(305.5,62)(305.5,60)(323.8,60)(323.8,64)(nan,nan)
(337.6,69)(337.6,63)(346.7,63)(346.7,69)(nan,nan)
(342.1,63)(342.1,61)(355.9,61)(355.9,69)(nan,nan)
(314.7,60)(314.7,57)(349.0,57)(349.0,61)(nan,nan)
(365.0,69)(365.0,63)(374.2,63)(374.2,69)(nan,nan)
(369.6,63)(369.6,60)(383.4,60)(383.4,69)(nan,nan)
(331.8,57)(331.8,55)(376.5,55)(376.5,60)(nan,nan)
(392.5,69)(392.5,65)(401.7,65)(401.7,69)(nan,nan)
(410.8,69)(410.8,64)(420.0,64)(420.0,69)(nan,nan)
(429.2,69)(429.2,65)(438.3,65)(438.3,69)(nan,nan)
(447.5,69)(447.5,64.5)(456.6,64.5)(456.6,69)(nan,nan)
(465.8,69)(465.8,65)(475.0,65)(475.0,69)(nan,nan)
(484.1,69)(484.1,64)(493.3,64)(493.3,69)(nan,nan)
(502.4,69)(502.4,65)(511.6,65)(511.6,69)(nan,nan)
(520.8,69)(520.8,64.5)(529.9,64.5)(529.9,69)(nan,nan)
(539.1,69)(539.1,65)(548.2,65)(548.2,69)(nan,nan)
(557.4,69)(557.4,64)(566.6,64)(566.6,69)(nan,nan)
(575.7,69)(575.7,65)(584.9,65)(584.9,69)(nan,nan)
(594.0,69)(594.0,64.5)(603.2,64.5)(603.2,69)(nan,nan)
(612.4,69)(612.4,65)(621.5,65)(621.5,69)(nan,nan)
(630.7,69)(630.7,64)(639.8,64)(639.8,69)(nan,nan)
(649.0,69)(649.0,65)(658.2,65)(658.2,69)(nan,nan)
(397.1,65)(397.1,62)(415.4,62)(415.4,64)(nan,nan)
(433.8,65)(433.8,62.5)(452.1,62.5)(452.1,64.5)(nan,nan)
(470.4,65)(470.4,62)(488.7,62)(488.7,64)(nan,nan)
(507.0,65)(507.0,62.5)(525.4,62.5)(525.4,64.5)(nan,nan)
(543.7,65)(543.7,62)(562.0,62)(562.0,64)(nan,nan)
(580.3,65)(580.3,62.5)(598.6,62.5)(598.6,64.5)(nan,nan)
(617.0,65)(617.0,62)(635.3,62)(635.3,64)(nan,nan)
(653.6,65)(653.6,62.5)(667.3,62.5)(667.3,69)(nan,nan)
(406.3,62)(406.3,60)(443.0,60)(443.0,62.5)(nan,nan)
(479.6,62)(479.6,60)(516.2,60)(516.2,62.5)(nan,nan)
(552.9,62)(552.9,60)(589.5,60)(589.5,62.5)(nan,nan)
(626.2,62)(626.2,60)(660.5,60)(660.5,62.5)(nan,nan)
(424.6,60)(424.6,58)(497.9,58)(497.9,60)(nan,nan)
(571.2,60)(571.2,58.5)(643.4,58.5)(643.4,60)(nan,nan)
(461.3,58)(461.3,56.5)(607.3,56.5)(607.3,58.5)(nan,nan)
(354.2,55)(354.2,52)(534.3,52)(534.3,56.5)(nan,nan)
(187.5,49.5)(187.5,48)(444.3,48)(444.3,52)};
% row dendrogram, black clusters
\addplot[black,line width=0.9pt] coordinates {
(48,91.6)(45,91.6)(45,100.7)(48,100.7)(nan,nan)
(48,109.9)(45,109.9)(45,119.0)(48,119.0)(nan,nan)
(45,96.2)(42,96.2)(42,114.5)(45,114.5)(nan,nan)
(42,105.3)(32,105.3)(32,189.9)(37,189.9)(nan,nan)
(32,147.6)(27,147.6)(27,295.0)(39.5,295.0)(nan,nan)
(48,256.1)(45,256.1)(45,265.3)(48,265.3)(nan,nan)
(48,274.4)(44,274.4)(44,283.6)(48,283.6)(nan,nan)
(45,260.7)(42,260.7)(42,279.0)(44,279.0)(nan,nan)
(48,292.7)(45,292.7)(45,301.9)(48,301.9)(nan,nan)
(48,311.0)(45,311.0)(45,320.1)(48,320.1)(nan,nan)
(45,297.3)(43,297.3)(43,315.6)(45,315.6)(nan,nan)
(48,329.3)(44,329.3)(44,338.4)(48,338.4)(nan,nan)
(43,306.4)(41.5,306.4)(41.5,333.9)(44,333.9)(nan,nan)
(42,269.8)(39.5,269.8)(39.5,320.1)(41.5,320.1)};
% row dendrogram, green cluster
\addplot[dgreen,line width=0.9pt] coordinates {
(48,128.1)(45,128.1)(45,137.3)(48,137.3)(nan,nan)
(48,146.4)(46,146.4)(46,155.6)(48,155.6)(nan,nan)
(45,132.7)(43,132.7)(43,151.0)(46,151.0)(nan,nan)
(48,164.7)(45,164.7)(45,173.9)(48,173.9)(nan,nan)
(48,183.0)(46,183.0)(46,192.1)(48,192.1)(nan,nan)
(45,169.3)(43,169.3)(43,187.6)(46,187.6)(nan,nan)
(43,141.9)(40,141.9)(40,178.5)(43,178.5)(nan,nan)
(48,201.3)(45,201.3)(45,210.4)(48,210.4)(nan,nan)
(48,219.6)(46,219.6)(46,228.7)(48,228.7)(nan,nan)
(48,237.9)(45,237.9)(45,247.0)(48,247.0)(nan,nan)
(46,224.2)(43,224.2)(43,242.5)(45,242.5)(nan,nan)
(45,205.9)(41,205.9)(41,233.3)(43,233.3)(nan,nan)
(40,160.2)(37,160.2)(37,219.6)(41,219.6)};

% panel letters
\node[anchor=base west,font=\fs{13}\bfseries,inner sep=0pt] at (axis cs:10,19.5) {A};
\node[anchor=base west,font=\fs{13}\bfseries,inner sep=0pt] at (axis cs:8,373) {B};
\node[anchor=base west,font=\fs{13}\bfseries,inner sep=0pt] at (axis cs:332,373) {C};
\node[anchor=base west,font=\fs{13}\bfseries,inner sep=0pt] at (axis cs:538,373) {D};

% A legend
\node[anchor=west,font=\fs{10},inner sep=0pt,text height=7.2pt,text depth=0pt] at (axis cs:252,13) {Treg origin};
\node[anchor=west,font=\fs{10},inner sep=0pt,text height=7.2pt,text depth=0pt] at (axis cs:333,13) {Cancer};
\fill[cP] (axis cs:253,23) rectangle (axis cs:262,31);
\fill[cT] (axis cs:253,37) rectangle (axis cs:262,45);
\fill[cBL] (axis cs:320,23) rectangle (axis cs:329,31);
\fill[cGBM] (axis cs:320,37) rectangle (axis cs:329,45);
\fill[cPCC] (axis cs:364,23) rectangle (axis cs:373,31);
\fill[cRCC] (axis cs:364,37) rectangle (axis cs:373,45);
\node[anchor=west,font=\fs{10},inner sep=0pt,text height=7.2pt,text depth=0pt] at (axis cs:265,27) {Peripheral};
\node[anchor=west,font=\fs{10},inner sep=0pt,text height=7.2pt,text depth=0pt] at (axis cs:265,41) {Tumor};
\node[anchor=west,font=\fs{10},inner sep=0pt,text height=7.2pt,text depth=0pt] at (axis cs:332,27) {BL};
\node[anchor=west,font=\fs{10},inner sep=0pt,text height=7.2pt,text depth=0pt] at (axis cs:332,41) {GBM};
\node[anchor=west,font=\fs{10},inner sep=0pt,text height=7.2pt,text depth=0pt] at (axis cs:376,27) {PCC};
\node[anchor=west,font=\fs{10},inner sep=0pt,text height=7.2pt,text depth=0pt] at (axis cs:376,41) {RCC};
\node[font=\fs{11.7},text=ttblue] at (axis cs:161.5,41) {Tumor Treg};
\node[font=\fs{12},text=ptred] at (axis cs:549,41) {Peripheral Treg};
\node[anchor=east,font=\fs{9},inner sep=0pt,text height=6.5pt,text depth=0pt] at (axis cs:47,74) {Treg origin};
\node[anchor=east,font=\fs{9},inner sep=0pt,text height=6.5pt,text depth=0pt] at (axis cs:47,83) {Cancer};
\node[font=\fs{10}] at (axis cs:737,51.5) {Log\textsubscript{10}};
\node[font=\fs{10}] at (axis cs:737,63.5) {expression};

% B annotations
\node[font=\fs{9.5},text=ttblue] at (axis cs:278,380) {Tumor Treg};
\node[font=\fs{10.4},text=ptred] at (axis cs:86.5,623) {Peripheral Treg};

% C legend
\node[anchor=west,font=\fs{9.5},inner sep=0pt,text height=6.8pt,text depth=0pt] at (axis cs:367,370) {Treg};
\node[anchor=west,font=\fs{9.5},inner sep=0pt,text height=6.8pt,text depth=0pt] at (axis cs:442,370) {Tumor};
\draw[cR,fill=cR!30,line width=0.8pt] (axis cs:373,380) rectangle (axis cs:382,386);
\draw[cB,fill=cB!35,line width=0.8pt] (axis cs:373,391) rectangle (axis cs:382,397);
\node[anchor=west,font=\fs{9},inner sep=0pt,text height=6.5pt,text depth=0pt] at (axis cs:384,383) {Peripheral};
\node[anchor=west,font=\fs{9},inner sep=0pt,text height=6.5pt,text depth=0pt] at (axis cs:384,394) {Tumor};
\addplot[only marks,symgray,mark=*,mark size=2pt] coordinates {(446.7,383)};
\addplot[only marks,symgray,mark=triangle*,mark size=2.4pt] coordinates {(446.7,393.8)};
\addplot[only marks,symgray,mark=square*,mark size=1.8pt] coordinates {(446.7,404)};
\addplot[only marks,symgray,mark=diamond*,mark size=1.6pt] coordinates {(446.7,415)};
\node[anchor=west,font=\fs{9},inner sep=0pt,text height=6.5pt,text depth=0pt] at (axis cs:455,383) {Bladder};
\node[anchor=west,font=\fs{9},inner sep=0pt,text height=6.5pt,text depth=0pt] at (axis cs:455,393.5) {Glioblastoma};
\node[anchor=west,font=\fs{9},inner sep=0pt,text height=6.5pt,text depth=0pt] at (axis cs:455,404) {Prostate};
\node[anchor=west,font=\fs{9},inner sep=0pt,text height=6.5pt,text depth=0pt] at (axis cs:455,415) {Renal};
\node[font=\fs{9.5}] at (axis cs:380,449) {3.0e\textsuperscript{-10}};
\node[font=\fs{9.5}] at (axis cs:418,449) {1.8e\textsuperscript{-12}};
\node[font=\fs{9.5}] at (axis cs:458,449) {3.8e\textsuperscript{-11}};
\node[font=\fs{9.5}] at (axis cs:497,449) {5.3e\textsuperscript{-19}};

% D legend
\node[anchor=west,font=\fs{9.5},inner sep=0pt,text height=6.8pt,text depth=0pt] at (axis cs:558,370) {Treg};
\node[anchor=west,font=\fs{9.5},inner sep=0pt,text height=6.8pt,text depth=0pt] at (axis cs:620,370) {Tumor};
\node[anchor=west,font=\fs{9.5},inner sep=0pt,text height=6.8pt,text depth=0pt] at (axis cs:697,370) {External Data};
\draw[cR,fill=cR!30,line width=0.8pt] (axis cs:560,380) rectangle (axis cs:569,386);
\draw[cB,fill=cB!35,line width=0.8pt] (axis cs:560,391) rectangle (axis cs:569,397);
\node[anchor=west,font=\fs{9},inner sep=0pt,text height=6.5pt,text depth=0pt] at (axis cs:571.5,383) {Peripheral};
\node[anchor=west,font=\fs{9},inner sep=0pt,text height=6.5pt,text depth=0pt] at (axis cs:571.5,394) {Tumor};
\addplot[only marks,symgray,mark=*,mark size=2pt] coordinates {(627.7,383)};
\addplot[only marks,symgray,mark=triangle*,mark size=2.4pt] coordinates {(627.7,393.8)};
\addplot[only marks,symgray,mark=square*,mark size=1.8pt] coordinates {(627.7,404)};
\addplot[only marks,symgray,mark=diamond*,mark size=1.6pt] coordinates {(627.7,415)};
\node[anchor=west,font=\fs{9},inner sep=0pt,text height=6.5pt,text depth=0pt] at (axis cs:634,383) {Bladder};
\node[anchor=west,font=\fs{9},inner sep=0pt,text height=6.5pt,text depth=0pt] at (axis cs:634,393.5) {Glioblastoma};
\node[anchor=west,font=\fs{9},inner sep=0pt,text height=6.5pt,text depth=0pt] at (axis cs:634,404) {Prostate};
\node[anchor=west,font=\fs{9},inner sep=0pt,text height=6.5pt,text depth=0pt] at (axis cs:634,415) {Renal};
\addplot[only marks,symgray,mark=square,mark size=2.3pt,mark options={line width=0.6pt}] coordinates {(699.5,381.5)};
\addplot[only marks,symgray,mark=o,mark size=2.6pt,mark options={line width=0.6pt}] coordinates {(699.5,391.5)};
\addplot[only marks,symgray,mark=diamond,mark size=3pt,mark options={line width=0.6pt}] coordinates {(699.5,402)};
\node[anchor=west,font=\fs{9},inner sep=0pt,text height=6.5pt,text depth=0pt] at (axis cs:706.7,381.5) {Lung};
\node[anchor=west,font=\fs{9},inner sep=0pt,text height=6.5pt,text depth=0pt] at (axis cs:706.7,391.5) {Breast};
\node[anchor=west,font=\fs{9},inner sep=0pt,text height=6.5pt,text depth=0pt] at (axis cs:706.7,402) {Colon};
\node[font=\fs{10}] at (axis cs:624,451) {1.8 e\textsuperscript{-3}};
\node[font=\fs{10}] at (axis cs:660.5,451) {4.1e\textsuperscript{-3}};
\node[font=\fs{10}] at (axis cs:705.5,451) {3.4e\textsuperscript{-4}};
\end{axis}
\end{tikzpicture}
\end{document}
